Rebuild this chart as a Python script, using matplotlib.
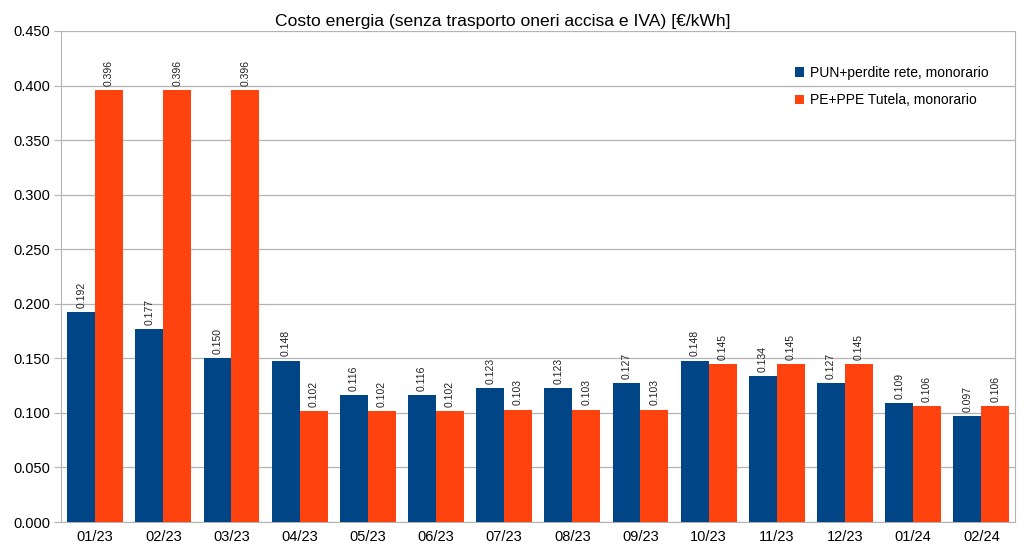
import matplotlib.pyplot as plt
import numpy as np

plt.rcParams['font.family'] = ['Liberation Sans', 'DejaVu Sans']

mesi = ['01/23', '02/23', '03/23', '04/23', '05/23', '06/23', '07/23',
        '08/23', '09/23', '10/23', '11/23', '12/23', '01/24', '02/24']
pun = [0.192, 0.177, 0.150, 0.148, 0.116, 0.116, 0.123,
       0.123, 0.127, 0.148, 0.134, 0.127, 0.109, 0.097]
tutela = [0.396, 0.396, 0.396, 0.102, 0.102, 0.102, 0.103,
          0.103, 0.103, 0.145, 0.145, 0.145, 0.106, 0.106]

blu = '#004586'
arancio = '#ff420e'
w = 0.41

fig = plt.figure(figsize=(10.24, 5.58), dpi=100)
ax = fig.add_axes([0.0596, 0.0645, 0.932, 0.88])

x = np.arange(len(mesi))
b1 = ax.bar(x - w/2, pun, w, color=blu, label='PUN+perdite rete, monorario', zorder=3)
b2 = ax.bar(x + w/2, tutela, w, color=arancio, label='PE+PPE Tutela, monorario', zorder=3)

#etichette sulle barre
for bars in (b1, b2):
    for r in bars:
        h = r.get_height()
        ax.annotate('%.3f' % h, (r.get_x() + r.get_width()/2, h),
                    xytext=(0, 3), textcoords='offset points',
                    rotation=90, ha='center', va='bottom', fontsize=7.5, color='#222222')

ax.set_xlim(-0.5, len(mesi) - 0.5)
ax.set_ylim(0, 0.45)
ax.set_yticks(np.arange(0, 0.451, 0.05))
ax.set_yticklabels(['%.3f' % v for v in np.arange(0, 0.451, 0.05)])
ax.set_xticks(x)
ax.set_xticklabels(mesi)
ax.tick_params(axis='both', labelsize=10.5, color='#b3b3b3', length=0, pad=6)
ax.tick_params(axis='y', length=5, direction='out', pad=3)
ax.yaxis.grid(True, color='#b3b3b3', linewidth=0.9, zorder=0)
for s in ax.spines.values():
    s.set_color('#b3b3b3')
ax.spines['top'].set_visible(False)

fig.text(0.491, 0.962, 'Costo energia (senza trasporto oneri accisa e IVA) [€/kWh]',
         fontsize=12.6, ha='center', va='center')

ax.legend(loc='upper right', bbox_to_anchor=(0.985, 0.955), frameon=False, fontsize=10,
          handlelength=0.7, handleheight=0.7, handletextpad=0.4, labelspacing=1.0)

plt.savefig('out.png', dpi=100)
